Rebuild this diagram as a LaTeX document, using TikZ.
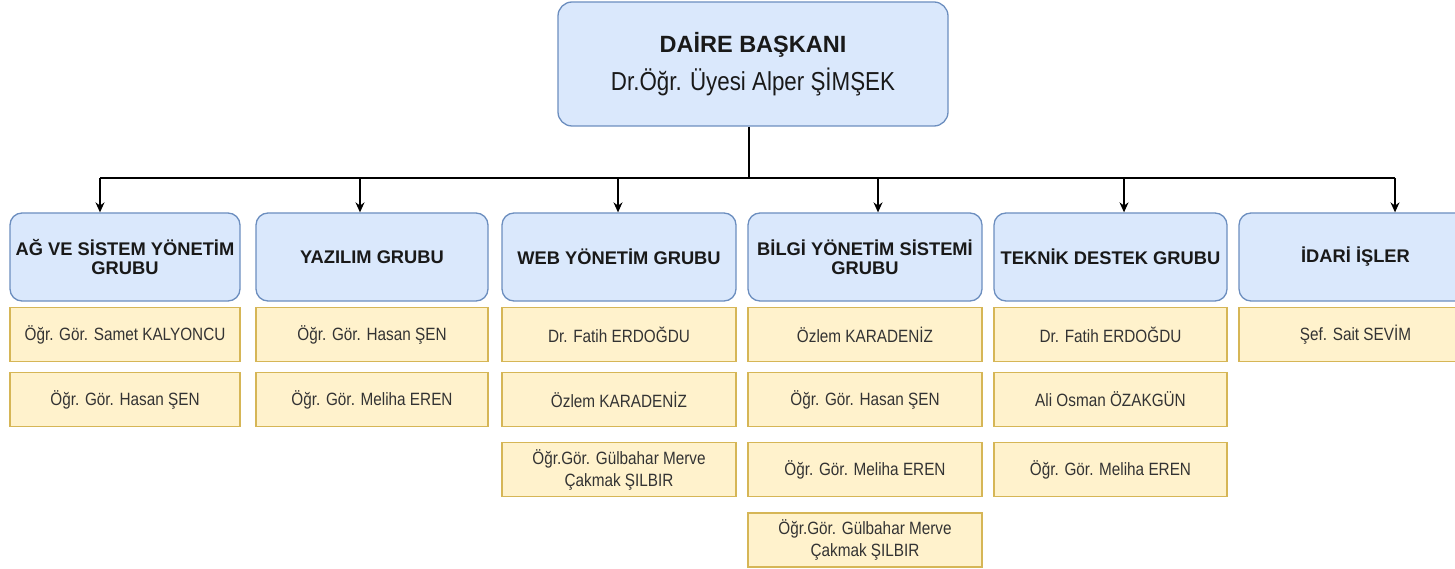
\documentclass[tikz,border=0pt]{standalone}
\usepackage{fontspec}
\setmainfont{Liberation Sans}
\newfontfamily\narrowfont[FakeStretch=0.86]{Liberation Sans}
\usetikzlibrary{arrows.meta,calc}
\definecolor{bluefill}{HTML}{DAE8FC}
\definecolor{bluedraw}{HTML}{6C8EBF}
\definecolor{yelfill}{HTML}{FFF2CC}
\definecolor{yeldraw}{HTML}{D6B656}
\begin{document}
\begin{tikzpicture}[x=1pt,y=-1pt,
  headbox/.style={draw=bluedraw, fill=bluefill, rounded corners=14pt, line width=1.3pt,
    minimum width=390pt, minimum height=124pt, inner sep=0pt, align=center,
    font=\fontsize{24}{38}\selectfont, text=black!90},
  groupbox/.style={draw=bluedraw, fill=bluefill, rounded corners=12pt, line width=1.3pt,
    minimum height=88pt, inner sep=0pt, align=center,
    font=\bfseries\fontsize{18.3}{19}\selectfont, text=black!90},
  memberbox/.style={draw=yeldraw, fill=yelfill, line width=1.3pt,
    minimum height=54pt, inner sep=0pt, align=center,
    font=\narrowfont\fontsize{17.8}{22}\selectfont, text=black!80},
  conn/.style={line width=1.3pt, draw=black},
  arr/.style={conn, -{Stealth[length=10pt,width=9pt]}}
]
\useasboundingbox (0,0) rectangle (1455,569);
\clip (0,0) rectangle (1455,569);

% head
\node[headbox] (top) at (753,64) {{\bfseries\fontsize{23.5}{38}\selectfont DAİRE BAŞKANI}\\{\narrowfont\fontsize{26}{38}\selectfont Dr.Öğr. Üyesi Alper ŞİMŞEK}};

% groups
\node[groupbox, minimum width=230pt] (g1) at (125,257) {AĞ VE SİSTEM YÖNETİM\\GRUBU};
\node[groupbox, minimum width=232pt] (g2) at (372,257) {YAZILIM GRUBU};
\node[groupbox, minimum width=234pt] (g3) at (619,257) {WEB YÖNETİM GRUBU};
\node[groupbox, minimum width=234pt] (g4) at (865,257) {BİLGİ YÖNETİM SİSTEMİ\\GRUBU};
\node[groupbox, minimum width=233pt] (g5) at (1110.5,257) {TEKNİK DESTEK GRUBU};
\node[groupbox, minimum width=233pt] (g6) at (1355.5,257) {İDARİ İŞLER};

% members column 1
\node[memberbox, minimum width=230pt] (m11) at (125,334.5) {Öğr. Gör. Samet KALYONCU};
\node[memberbox, minimum width=230pt] (m12) at (125,399.5) {Öğr. Gör. Hasan ŞEN};
% column 2
\node[memberbox, minimum width=232pt] (m21) at (372,334.5) {Öğr. Gör. Hasan ŞEN};
\node[memberbox, minimum width=232pt] (m22) at (372,399.5) {Öğr. Gör. Meliha EREN};
% column 3
\node[memberbox, minimum width=234pt] (m31) at (619,334.5) {Dr. Fatih ERDOĞDU};
\node[memberbox, minimum width=234pt] (m32) at (619,399.5) {Özlem KARADENİZ};
\node[memberbox, minimum width=234pt] (m33) at (619,469.5) {Öğr.Gör. Gülbahar Merve\\Çakmak ŞILBIR};
% column 4
\node[memberbox, minimum width=234pt] (m41) at (865,334.5) {Özlem KARADENİZ};
\node[memberbox, minimum width=234pt] (m42) at (865,399.5) {Öğr. Gör. Hasan ŞEN};
\node[memberbox, minimum width=234pt] (m43) at (865,469.5) {Öğr. Gör. Meliha EREN};
\node[memberbox, minimum width=234pt] (m44) at (865,540) {Öğr.Gör. Gülbahar Merve\\Çakmak ŞILBIR};
% column 5
\node[memberbox, minimum width=233pt] (m51) at (1110.5,334.5) {Dr. Fatih ERDOĞDU};
\node[memberbox, minimum width=233pt] (m52) at (1110.5,399.5) {Ali Osman ÖZAKGÜN};
\node[memberbox, minimum width=233pt] (m53) at (1110.5,469.5) {Öğr. Gör. Meliha EREN};
% column 6
\node[memberbox, minimum width=233pt] (m61) at (1355.5,334.5) {Şef. Sait SEVİM};

% bus coordinates
\coordinate (b1) at (100,178);
\coordinate (b2) at (360,178);
\coordinate (b3) at (618,178);
\coordinate (b4) at (878,178);
\coordinate (b5) at (1124,178);
\coordinate (b6) at (1395,178);
\coordinate (bt) at (749,178);

\draw[conn] (top.south -| bt) -- (bt);
\draw[conn] (b1) -- (b6);
\draw[arr] (b1) -- (b1 |- g1.north);
\draw[arr] (b2) -- (b2 |- g2.north);
\draw[arr] (b3) -- (b3 |- g3.north);
\draw[arr] (b4) -- (b4 |- g4.north);
\draw[arr] (b5) -- (b5 |- g5.north);
\draw[arr] (b6) -- (b6 |- g6.north);
\end{tikzpicture}
\end{document}
